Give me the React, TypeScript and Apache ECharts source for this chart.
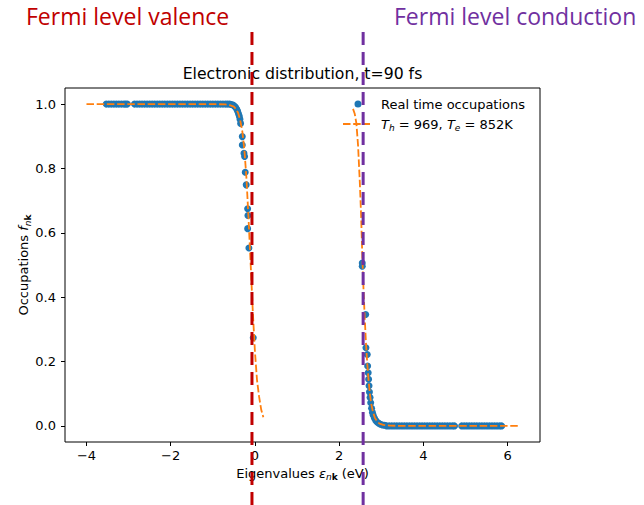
import React, { useEffect, useRef } from "react";
import * as echarts from "echarts";

// Real-time occupations (valence side)
const valenceEnergies = [
  -3.53, -3.47, -3.41, -3.35, -3.29, -3.23, -3.17, -3.11, -3.07, -3.03,
  -2.86, -2.8, -2.74, -2.68, -2.62, -2.56, -2.5, -2.44, -2.38, -2.32,
  -2.26, -2.2, -2.14, -2.08, -2.02, -1.96, -1.9, -1.84, -1.78, -1.72,
  -1.66, -1.6, -1.54, -1.48, -1.42, -1.36, -1.3, -1.24, -1.18, -1.12,
  -1.06, -1.0, -0.94, -0.88, -0.82, -0.76, -0.7, -0.65, -0.6,
  -0.56, -0.52, -0.49, -0.46, -0.43, -0.41, -0.39, -0.37, -0.355, -0.34,
  -0.3, -0.3, -0.26, -0.245, -0.23, -0.207, -0.173, -0.166, -0.173, -0.143, -0.04,
];
const valenceOccupations = [
  1, 1, 1, 1, 1, 1, 1, 1, 1, 1,
  1, 1, 1, 1, 1, 1, 1, 1, 1, 1,
  1, 1, 1, 1, 1, 1, 1, 1, 1, 1,
  1, 1, 1, 1, 1, 1, 1, 1, 1, 1,
  1, 1, 1, 1, 1, 1, 1, 1, 1,
  0.999, 0.997, 0.994, 0.99, 0.984, 0.978, 0.97, 0.962, 0.953, 0.94,
  0.899, 0.873, 0.847, 0.837, 0.788, 0.749, 0.675, 0.654, 0.613, 0.553, 0.274,
];

// Real-time occupations (conduction side)
const conductionEnergies = [
  2.549, 2.549, 2.63, 2.637, 2.668, 2.677, 2.69, 2.7, 2.71,
  2.72, 2.735, 2.75, 2.77, 2.79, 2.81, 2.84, 2.87, 2.9, 2.94, 2.98, 3.03, 3.08,
  3.13, 3.19, 3.25, 3.31, 3.37, 3.43, 3.49, 3.55, 3.61, 3.67,
  3.73, 3.79, 3.85, 3.91, 3.97, 4.03, 4.09, 4.15, 4.21, 4.27,
  4.33, 4.39, 4.45, 4.51, 4.57, 4.63, 4.69, 4.74, 4.91, 4.97,
  5.03, 5.09, 5.15, 5.21, 5.27, 5.33, 5.39, 5.45, 5.51, 5.57,
  5.63, 5.69, 5.75, 5.81, 5.86,
];
const conductionOccupations = [
  0.506, 0.496, 0.346, 0.243, 0.222, 0.186, 0.165, 0.145, 0.125,
  0.105, 0.088, 0.072, 0.055, 0.042, 0.033, 0.024, 0.017, 0.012, 0.008, 0.005, 0.003, 0.002,
  0, 0, 0, 0, 0, 0, 0, 0, 0, 0,
  0, 0, 0, 0, 0, 0, 0, 0, 0, 0,
  0, 0, 0, 0, 0, 0, 0, 0, 0, 0,
  0, 0, 0, 0, 0, 0, 0, 0, 0, 0,
  0, 0, 0, 0, 0,
];

// Fitted Fermi-Dirac curves
const fitValenceEnergies = [
  -4.0, -1.0, -0.7, -0.6, -0.5, -0.45, -0.4, -0.35, -0.3, -0.25,
  -0.2, -0.15, -0.1, -0.05, 0.0, 0.05, 0.1, 0.15, 0.2,
];
const fitValenceOccupations = [
  1.0, 1.0, 0.999, 0.997, 0.992, 0.985, 0.973, 0.95, 0.916, 0.858,
  0.768, 0.64, 0.5, 0.355, 0.232, 0.142, 0.09, 0.05, 0.027,
];
const fitConductionEnergies = [
  2.33, 2.37, 2.41, 2.45, 2.49, 2.52, 2.55, 2.58, 2.61, 2.64,
  2.67, 2.7, 2.73, 2.76, 2.8, 2.85, 2.9, 2.96, 3.05, 3.2, 3.5, 6.25,
];
const fitConductionOccupations = [
  0.985, 0.97, 0.94, 0.87, 0.76, 0.66, 0.53, 0.42, 0.33, 0.25,
  0.19, 0.14, 0.1, 0.07, 0.045, 0.025, 0.014, 0.007, 0.003, 0.001, 0, 0,
];

const xTicks = [-4, -2, 0, 2, 4, 6];
const yTicks = [0, 0.2, 0.4, 0.6, 0.8, 1.0];
const xRange = [-4.51, 6.77];
const yRange = [-0.05, 1.05];
const fermiValence = -0.07;
const fermiConduction = 2.57;

const scatterName = "Real time occupations";
const fitName = "T_h = 969, T_e = 852K";
const titleText = "Electronic distribution, t=90 fs";

const zip = (xs: number[], ys: number[]) => xs.map((x, i) => [x, ys[i]]);

const GRID = { left: 65, right: 104, top: 88, bottom: 63 };

export default function App() {
  const ref = useRef<HTMLDivElement>(null);
  useEffect(() => {
    document.body.style.margin = "0";
    const chart = echarts.init(ref.current!, null, { renderer: "svg" });
    const font = "DejaVu Sans";
    const fs = 13;
    const rich = {
      n: { fontFamily: font, fontSize: fs, color: "#000" },
      i: { fontFamily: font, fontSize: fs, fontStyle: "italic", color: "#000" },
      s: { fontFamily: font, fontSize: 9, fontStyle: "italic", color: "#000", padding: [8, 0, 0, 0] },
      b: { fontFamily: font, fontSize: 9, fontWeight: "bold", color: "#000", padding: [8, 0, 0, 0] },
    };
    const minus = (v: number) => (v < 0 ? "\u2212" + Math.abs(v) : String(v));
    const dashIcon =
      "path://M0,0M33,14M0,6.1h7.5v1.8h-7.5zM10.2,6.1h7.5v1.8h-7.5zM20.4,6.1h6.6v1.8h-6.6z";
    const dotIcon = "path://M0,0M33,14M11.5,7a3.5,3.5 0 1,0 7,0a3.5,3.5 0 1,0 -7,0Z";
    chart.setOption({
      animation: false,
      grid: { ...GRID, show: true, borderColor: "#000", borderWidth: 1, backgroundColor: "transparent", outerBoundsMode: "none" },
      legend: {
        orient: "vertical",
        left: 343,
        top: 97,
        padding: 0,
        itemWidth: 33,
        itemHeight: 14,
        itemGap: 6,
        data: [
          { name: scatterName, icon: dotIcon },
          { name: fitName, icon: dashIcon, itemStyle: { color: "#ff7f0e", borderWidth: 0 } },
        ],
        formatter: (name: string) =>
          name === fitName ? "{i|T}{s|h}{n| = 969, }{i|T}{s|e}{n| = 852K}" : name,
        textStyle: { fontFamily: font, fontSize: fs, color: "#000", rich },
      },
      xAxis: {
        type: "value",
        min: xRange[0],
        max: xRange[1],
        name: "{n|Eigenvalues }{i|ε}{s|n}{b|k}{n| (eV)}",
        nameLocation: "middle",
        nameGap: 22,
        nameTextStyle: { fontFamily: font, fontSize: fs, color: "#000", rich },
        axisLine: { show: false, onZero: false },
        axisTick: { show: true, customValues: xTicks, length: 4, lineStyle: { color: "#000", width: 1 } },
        axisLabel: { customValues: xTicks, formatter: minus, fontFamily: font, fontSize: fs, color: "#000", margin: 7 },
        splitLine: { show: false },
      },
      yAxis: {
        type: "value",
        min: yRange[0],
        max: yRange[1],
        name: "{n|Occupations }{i|f}{s|n}{b|k}",
        nameLocation: "middle",
        nameRotate: 90,
        nameGap: 33,
        nameMoveOverlap: false,
        nameTextStyle: { fontFamily: font, fontSize: fs, color: "#000", rich },
        axisLine: { show: false, onZero: false },
        axisTick: { show: true, customValues: yTicks, length: 4, lineStyle: { color: "#000", width: 1 } },
        axisLabel: { customValues: yTicks, formatter: (v: number) => v.toFixed(1), fontFamily: font, fontSize: fs, color: "#000", margin: 9 },
        splitLine: { show: false },
      },
      series: [
        {
          name: scatterName,
          type: "scatter",
          symbolSize: 7,
          itemStyle: { color: "#1f77b4", opacity: 1 },
          data: zip(valenceEnergies, valenceOccupations).concat(zip(conductionEnergies, conductionOccupations)),
          z: 2,
        },
        {
          name: fitName,
          type: "line",
          symbol: "none",
          lineStyle: { color: "#ff7f0e", width: 1.8, type: [7.5, 2.7] },
          itemStyle: { color: "#ff7f0e" },
          data: zip(fitValenceEnergies, fitValenceOccupations),
          z: 3,
        },
        {
          name: fitName,
          type: "line",
          symbol: "none",
          lineStyle: { color: "#ff7f0e", width: 1.8, type: [7.5, 2.7] },
          itemStyle: { color: "#ff7f0e" },
          data: zip(fitConductionEnergies, fitConductionOccupations),
          z: 3,
        },
      ],
    });
    const toPx = (v: number) => {
      const p: any = chart.convertToPixel({ gridIndex: 0 }, [v, 0]);
      let x = Array.isArray(p) ? p[0] : p;
      if (!Number.isFinite(x)) {
        x = GRID.left + ((v - xRange[0]) / (xRange[1] - xRange[0])) * (644 - GRID.left - GRID.right);
      }
      return x;
    };
    const xv = toPx(fermiValence);
    const xc = toPx(fermiConduction);
    const gridCenter = (GRID.left + (644 - GRID.right)) / 2;
    const vline = (x: number, color: string) => ({
      type: "line",
      z: 100,
      shape: { x1: x, y1: 32, x2: x, y2: 505 },
      style: { stroke: color, lineWidth: 3, lineDash: [13, 7], fill: null },
    });
    chart.setOption({
      graphic: [
        {
          type: "text",
          z: 50,
          x: gridCenter,
          y: 73.5,
          style: { text: titleText, fontFamily: font, fontSize: 15.7, fill: "#000", align: "center", verticalAlign: "middle", textAlign: "center", textVerticalAlign: "middle" },
        },
        vline(xv, "#C00000"),
        vline(xc, "#7030A0"),
        {
          type: "text",
          z: 100,
          x: 26,
          y: 15.5,
          style: { text: "Fermi level valence", fontFamily: "Open Sans", fontSize: 23, fill: "#C00000", align: "left", verticalAlign: "middle", textAlign: "left", textVerticalAlign: "middle" },
        },
        {
          type: "text",
          z: 100,
          x: 394,
          y: 15.5,
          style: { text: "Fermi level conduction", fontFamily: "Open Sans", fontSize: 23, fill: "#7030A0", align: "left", verticalAlign: "middle", textAlign: "left", textVerticalAlign: "middle" },
        },
      ],
    });
    return () => chart.dispose();
  }, []);
  return <div ref={ref} style={{ position: "absolute", left: 0, top: 0, width: 644, height: 505 }} />;
}
